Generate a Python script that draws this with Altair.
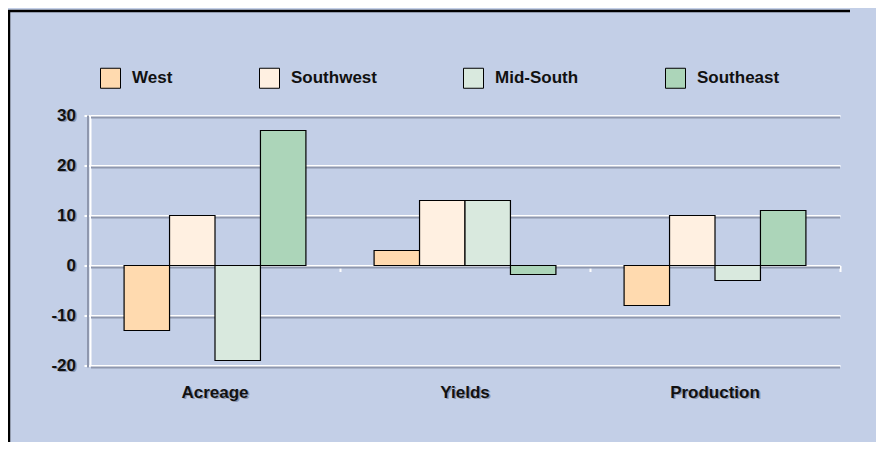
import altair as alt
import pandas as pd

categories = ["Acreage", "Yields", "Production"]
regions = ["West", "Southwest", "Mid-South", "Southeast"]
west = [-13, 3, -8]
southwest = [10, 13, 10]
mid_south = [-19, 13, -3]
southeast = [27, -1.8, 11]
y_ticks = [-20, -10, 0, 10, 20, 30]
y_labels = ["-20", "-10", "0", "10", "20", "30"]

colors = ["#FFDAAF", "#FFF0E1", "#D9E9DE", "#ACD5B9"]
BG = "#C3CFE7"
SHADOW = "#8E97AE"
FONT = "Liberation Sans"

rows = []
for series, name in zip([west, southwest, mid_south, southeast], regions):
    for c, v in zip(categories, series):
        rows.append({"category": c, "region": name, "value": v})
bars_df = pd.DataFrame(rows)
ticks_df = pd.DataFrame({"tick": y_ticks, "label": y_labels})
cats_df = pd.DataFrame({"category": categories})
one_df = pd.DataFrame({"k": [0]})

W, H = 750, 250

x_scale = alt.Scale(domain=categories, paddingInner=0, paddingOuter=0)
y_scale = alt.Scale(domain=[-20, 30], nice=False, zero=False)

# frame lines (top and left)
frame_top = alt.Chart(one_df).mark_rule(color="black", strokeWidth=2.5).encode(
    x=alt.value(-82), x2=alt.value(760), y=alt.value(-104.5)
)
frame_left = alt.Chart(one_df).mark_rule(color="black", strokeWidth=2.5).encode(
    x=alt.value(-81), y=alt.value(-105.5), y2=alt.value(328)
)

grid_shadow = alt.Chart(ticks_df).mark_rule(
    color=SHADOW, strokeWidth=2, yOffset=2, xOffset=1
).encode(
    y=alt.Y("tick:Q", scale=y_scale),
    x=alt.value(0), x2=alt.value(W),
)
axis_shadow = alt.Chart(one_df).mark_rule(color=SHADOW, strokeWidth=2).encode(
    x=alt.value(-2), y=alt.value(0), y2=alt.value(H + 2)
)

bars = alt.Chart(bars_df).mark_bar(stroke="black", strokeWidth=1.2).encode(
    x=alt.X(
        "category:N", scale=x_scale, sort=categories,
        axis=alt.Axis(
            title=None, labels=False, domain=False, grid=False,
            ticks=True, tickColor="white", tickWidth=2, tickSize=6,
            bandPosition=1, offset=-100,
        ),
    ),
    xOffset=alt.XOffset(
        "region:N", sort=regions,
        scale=alt.Scale(domain=regions, paddingInner=0, paddingOuter=0.75),
    ),
    y=alt.Y(
        "value:Q", scale=y_scale,
        axis=alt.Axis(
            title=None, values=y_ticks, labels=False,
            grid=True, gridColor="white", gridWidth=2, gridOpacity=1,
            domain=True, domainColor="white", domainWidth=2,
            ticks=True, tickColor="white", tickWidth=2, tickSize=6,
        ),
    ),
    color=alt.Color(
        "region:N", sort=regions,
        scale=alt.Scale(domain=regions, range=colors),
        title=None,
        legend=alt.Legend(
            orient="none", legendX=10, legendY=-48, direction="horizontal",
            symbolType="square", symbolSize=400, symbolStrokeColor="black",
            symbolStrokeWidth=1, symbolOpacity=1,
            labelFont=FONT, labelFontSize=17, labelFontWeight="bold",
            labelColor="#111111", labelOffset=11, columnPadding=84,
            padding=0, gridAlign="each",
        ),
    ),
)

ylab_shadow = alt.Chart(ticks_df).mark_text(
    align="right", baseline="middle", font=FONT, fontSize=17, fontWeight="bold",
    color=SHADOW, dx=1.5, dy=1.5,
).encode(y=alt.Y("tick:Q", scale=y_scale), x=alt.value(-14), text="label:N")
ylab = alt.Chart(ticks_df).mark_text(
    align="right", baseline="middle", font=FONT, fontSize=17, fontWeight="bold",
    color="#111111",
).encode(y=alt.Y("tick:Q", scale=y_scale), x=alt.value(-14), text="label:N")

xlab_shadow = alt.Chart(cats_df).mark_text(
    align="center", baseline="middle", font=FONT, fontSize=17, fontWeight="bold",
    color=SHADOW, dx=1.5, dy=1.5,
).encode(x=alt.X("category:N", scale=x_scale, sort=categories), y=alt.value(277), text="category:N")
xlab = alt.Chart(cats_df).mark_text(
    align="center", baseline="middle", font=FONT, fontSize=17, fontWeight="bold",
    color="#111111",
).encode(x=alt.X("category:N", scale=x_scale, sort=categories), y=alt.value(277), text="category:N")

chart = alt.layer(
    grid_shadow, axis_shadow, bars, ylab_shadow, ylab, xlab_shadow, xlab,
    frame_top, frame_left,
).properties(
    width=W, height=H,
    autosize=alt.AutoSizeParams(type="none"),
    padding={"left": 82, "top": 107.5, "right": 36, "bottom": 76.5},
    background=BG,
).configure_view(stroke=None, fill=None)

chart.save("out.html", embed_options={"renderer": "svg", "actions": False})
